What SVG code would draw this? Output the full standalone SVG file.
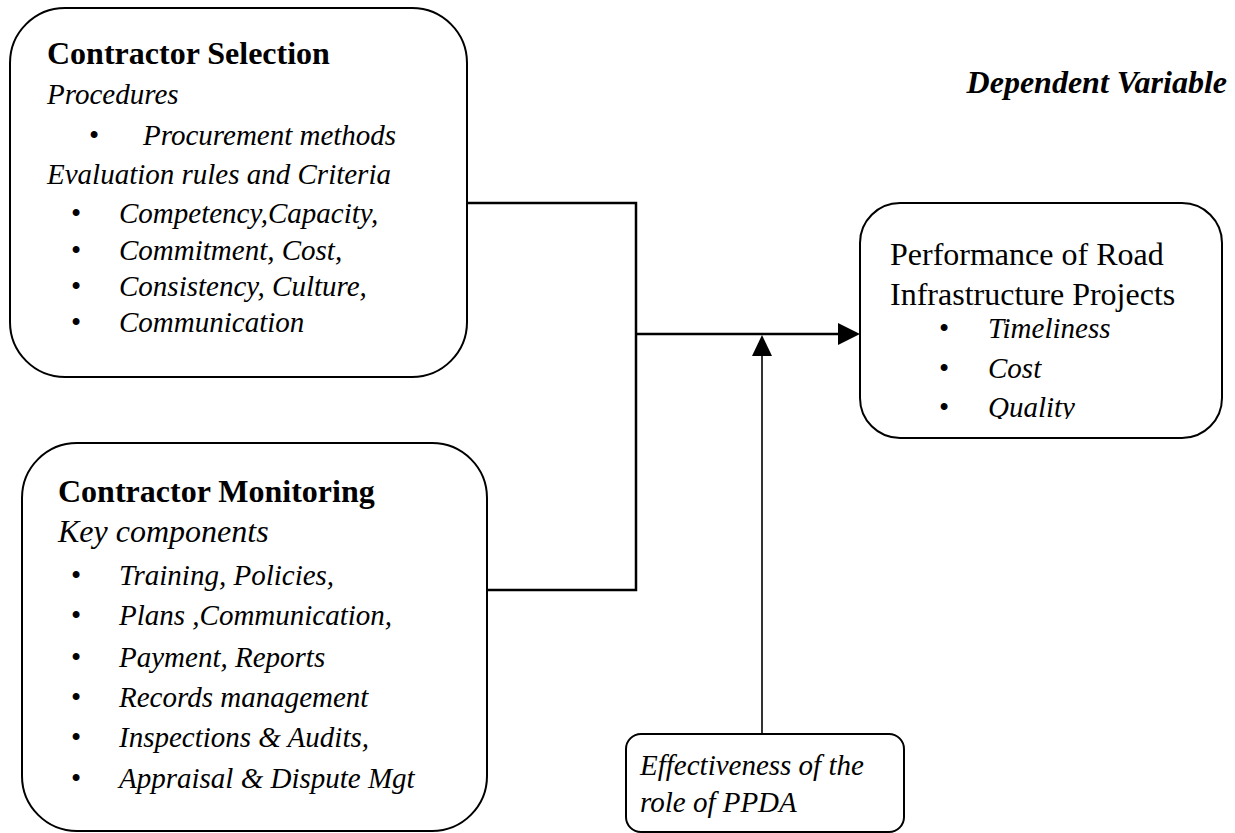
<svg xmlns="http://www.w3.org/2000/svg" width="1235" height="833" viewBox="0 0 1235 833">
<style>
.box{fill:#fff;stroke:#000;stroke-width:2}
.t{font-family:"Liberation Serif","Times New Roman",serif;fill:#000}
.h{font-size:32px;font-weight:bold}
.r{font-size:32px}
.i{font-size:29px;font-style:italic}
.ib{font-size:32px;font-style:italic}
.b{font-size:29px}
.ln{fill:none;stroke:#000;stroke-width:2.5}
.thin{fill:none;stroke:#000;stroke-width:1.6}
</style>
<defs>
<clipPath id="clipQ"><rect x="860" y="203" width="362" height="216"/></clipPath>
</defs>
<rect width="1235" height="833" fill="#fff"/>
<g id="connectors">
<polyline class="ln" points="467,203 636,203 636,590 486,590"/>
<line class="ln" x1="636" y1="334" x2="840" y2="334"/>
<polygon points="838,323 860,334 838,345" fill="#000"/>
<line class="thin" x1="762" y1="734" x2="762" y2="354"/>
<polygon points="762,335 752,356 772,356" fill="#000"/>
</g>
<g id="label-dependent">
<text class="t" x="1227" y="93" text-anchor="end" font-size="32" font-weight="bold" font-style="italic">Dependent Variable</text>
</g>
<g id="node-selection">
<rect class="box" x="10" y="8" width="457" height="369" rx="55" ry="55"/>
<text class="t h" x="47" y="64">Contractor Selection</text>
<text class="t i" x="47" y="104">Procedures</text>
<text class="t b" x="89" y="145">•</text>
<text class="t i" x="143" y="145">Procurement methods</text>
<text class="t i" x="47" y="184">Evaluation rules and Criteria</text>
<text class="t b" x="71" y="223">•</text>
<text class="t i" x="119" y="223">Competency,Capacity,</text>
<text class="t b" x="71" y="260">•</text>
<text class="t i" x="119" y="260">Commitment, Cost,</text>
<text class="t b" x="71" y="296">•</text>
<text class="t i" x="119" y="296">Consistency, Culture,</text>
<text class="t b" x="71" y="332">•</text>
<text class="t i" x="119" y="332">Communication</text>
</g>
<g id="node-monitoring">
<rect class="box" x="22" y="443" width="465" height="388" rx="55" ry="55"/>
<text class="t h" x="58" y="502">Contractor Monitoring</text>
<text class="t ib" x="58" y="542">Key components</text>
<text class="t b" x="71" y="585">•</text>
<text class="t i" x="119" y="585">Training, Policies,</text>
<text class="t b" x="71" y="625">•</text>
<text class="t i" x="119" y="625">Plans ,Communication,</text>
<text class="t b" x="71" y="667">•</text>
<text class="t i" x="119" y="667">Payment, Reports</text>
<text class="t b" x="71" y="707">•</text>
<text class="t i" x="119" y="707">Records management</text>
<text class="t b" x="71" y="747">•</text>
<text class="t i" x="119" y="747">Inspections &amp; Audits,</text>
<text class="t b" x="71" y="788">•</text>
<text class="t i" x="119" y="788">Appraisal &amp; Dispute Mgt</text>
</g>
<g id="node-performance">
<rect class="box" x="860" y="203" width="362" height="235" rx="40" ry="40"/>
<text class="t r" x="890" y="265">Performance of Road</text>
<text class="t r" x="890" y="305">Infrastructure Projects</text>
<text class="t b" x="939" y="338">•</text>
<text class="t i" x="988" y="338">Timeliness</text>
<text class="t b" x="939" y="378">•</text>
<text class="t i" x="988" y="378">Cost</text>
<g clip-path="url(#clipQ)">
<text class="t b" x="939" y="417">•</text>
<text class="t i" x="988" y="417">Quality</text>
</g>
</g>
<g id="node-ppda">
<rect class="box" x="626" y="734" width="278" height="98" rx="15" ry="15"/>
<text class="t i" x="640" y="775">Effectiveness of the</text>
<text class="t i" x="640" y="812">role of PPDA</text>
</g>
</svg>
